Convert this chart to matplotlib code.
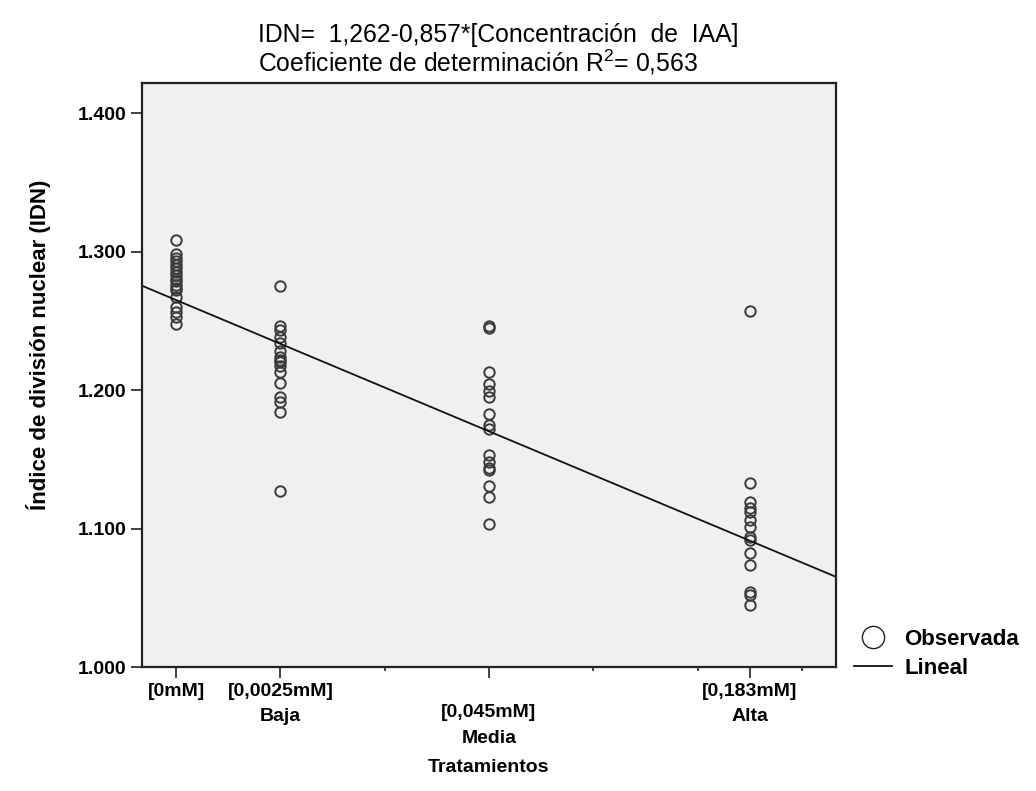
import numpy as np
import matplotlib
matplotlib.use("Agg")
import matplotlib.pyplot as plt
from matplotlib import rc
from matplotlib.lines import Line2D

rc('mathtext', default='regular')
plt.rcParams["font.family"] = ["Liberation Sans", "DejaVu Sans"]

# x positions of the treatment groups on the chart scale
grp_pos = [0, 1, 3, 5.5]
grp_labels = ["[0mM]", "[0,0025mM]\nBaja", "[0,045mM]\nMedia", "[0,183mM]\nAlta"]
minor_pos = [2, 4, 5, 6]

idn_control = [1.308, 1.298, 1.295, 1.293, 1.290, 1.288, 1.285, 1.283, 1.280, 1.279,
               1.276, 1.274, 1.272, 1.267, 1.260, 1.256, 1.253, 1.248]
idn_baja = [1.275, 1.246, 1.243, 1.238, 1.234, 1.228, 1.224, 1.222, 1.220, 1.217,
            1.213, 1.205, 1.195, 1.191, 1.184, 1.127]
idn_media = [1.246, 1.245, 1.213, 1.204, 1.199, 1.195, 1.183, 1.175, 1.172, 1.153,
             1.148, 1.144, 1.142, 1.131, 1.123, 1.103]
idn_alta = [1.257, 1.133, 1.119, 1.115, 1.112, 1.106, 1.101, 1.094, 1.092, 1.082,
            1.074, 1.054, 1.052, 1.045]

# fitted line (chart scale): value at x=0 and slope per unit
fit_b0 = 1.265
fit_b1 = -0.0316

xlim = (-0.326, 6.326)

fig = plt.figure(figsize=(10.36, 7.91), dpi=100)
ax = fig.add_axes([142/1036, 1 - 667/791, 694/1036, 584/791])
ax.set_facecolor("#f0f0f0")

for xp, vals in zip(grp_pos, [idn_control, idn_baja, idn_media, idn_alta]):
    ax.plot([xp]*len(vals), vals, ls="none", marker="o", ms=7.5, mfc="none",
            mec="#3a3a3a", mew=1.4)

xx = np.array(xlim)
ax.plot(xx, fit_b0 + fit_b1*xx, color="#111111", lw=1.3)

ax.set_xlim(*xlim)
ax.set_ylim(1.0, 1.4217)
ax.set_yticks([1.0, 1.1, 1.2, 1.3, 1.4])
ax.set_yticklabels(["1.000", "1.100", "1.200", "1.300", "1.400"],
                   fontsize=14, fontweight="bold")
ax.set_xticks(grp_pos)
ax.set_xticklabels([])
ax.set_xticks(minor_pos, minor=True)
ax.tick_params(axis="both", which="major", direction="out", length=8, width=1.3,
               color="#333333")
ax.tick_params(axis="y", which="major", pad=3)
ax.tick_params(axis="x", which="minor", direction="out", length=3, width=1.3,
               color="#333333")
for sp in ax.spines.values():
    sp.set_linewidth(1.6)
    sp.set_color("#222222")

# treatment labels (Media sits a bit lower in the original)
lab_y = [-0.027, -0.027, -0.064, -0.027]
for xp, lab, yy in zip(grp_pos, grp_labels, lab_y):
    ax.text(xp, yy, lab, transform=ax.get_xaxis_transform(), ha="center", va="top",
            fontsize=14, fontweight="bold", linespacing=1.65)

fig.text(489/1036, 1 - 768/791, "Tratamientos", ha="center", va="center",
         fontsize=14, fontweight="bold")
fig.text(39/1036, 1 - 345/791, "Índice de división nuclear (IDN)", rotation=90,
         ha="center", va="center", fontsize=16, fontweight="bold")

fig.text(258/1036, 1 - 35/791, "IDN=  1,262-0,857*[Concentración  de  IAA]",
         ha="left", va="center", fontsize=17.8)
fig.text(258/1036, 1 - 62/791, "Coeficiente de determinación R$^2$= 0,563",
         ha="left", va="center", fontsize=17.8)

handles = [Line2D([], [], ls="none", marker="o", ms=16, mfc="none", mec="#222222", mew=1),
           Line2D([], [], color="#111111", lw=1.3)]
fig.legend(handles, ["Observada", "Lineal"], loc="center left",
           bbox_to_anchor=(834/1036, 1 - 654/791), frameon=False,
           prop={"weight": "bold", "size": 16}, handlelength=1.7,
           handletextpad=0.55, labelspacing=0.38)

fig.savefig("out.png", dpi=100)
